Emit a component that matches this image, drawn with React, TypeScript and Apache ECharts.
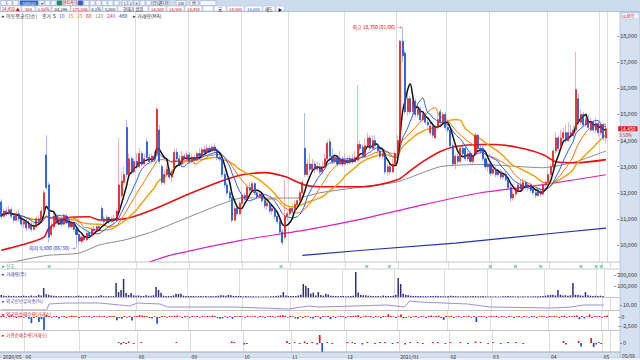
import React, { useEffect, useRef } from "react";
import * as echarts from "echarts";

// ---------------- DATA ----------------
const monthLabels = ["2020/05", "06", "07", "08", "09", "10", "11", "12", "2021/01", "02", "03", "04", "05"];
const monthTradingDays = [9, 22, 23, 21, 21, 19, 22, 21, 20, 17, 23, 21, 3];

// [open, close, low, high]
const candles: number[][] = [
  [11650,11100,11000,11750],[11100,11300,11050,11400],[11300,11200,11100,11450],[11200,11350,11150,11500],[11350,11100,11000,11450],
  [11100,10950,10850,11200],[10950,11200,10900,11300],[11200,11000,10900,11350],[11000,10800,10700,11100],[10800,10900,10650,11000],
  [10900,10650,10550,11000],[10650,10800,10600,10950],[10800,10600,10500,10900],[10600,10700,10550,10850],[10700,11000,10650,11100],
  [11000,10900,10800,11150],[10900,11300,10850,11450],[11300,12000,11200,12100],[13450,12200,12100,14200],[12300,10300,10100,12400],
  [10400,10700,10300,10900],[10700,11100,10600,11300],[11100,10900,10800,11200],[10900,11000,10750,11150],[11000,10800,10700,11100],
  [10800,11100,10750,11200],[11100,10850,10800,11200],[10850,10700,10600,10950],[10700,10850,10650,11000],[10850,10600,10500,10900],
  [10600,10400,9900,10700],[10400,10150,10050,10450],[10150,10300,10050,10400],[10300,10200,10100,10400],[10200,10450,10150,10550],
  [10450,10350,10250,10550],[10350,10600,10300,10700],[10600,10550,10450,10750],[10550,10700,10500,10800],[10700,10650,10550,10850],
  [11400,11000,10900,11500],[11000,10900,10800,11100],[10900,11050,10850,11150],[11050,10900,10800,11100],[10900,11000,10850,11100],
  [11000,10950,10850,11150],[10950,11300,10900,11400],[11300,12300,11200,14100],[11900,12450,11800,12800],[12400,12700,12300,13000],
  [14500,12700,12600,14800],[12700,13300,12600,13500],[13300,12800,12700,13400],[12800,13200,12750,13350],[13200,13000,12900,13500],
  [13000,13500,12950,13700],[13500,13100,13000,13600],[13100,13300,13050,13500],[13950,13350,13300,14100],[13350,13200,13100,13500],
  [13200,13400,13100,13500],[13400,13300,13200,13600],[13500,15200,13400,15300],[14400,13200,13100,14600],[13000,12400,12300,13100],
  [12400,12700,12300,12900],[12700,12900,12600,13100],[12900,12600,12500,13000],[12600,12800,12400,12900],[12950,13550,12900,13700],
  [13550,13300,13200,13700],[13300,13100,13000,13450],[13100,13400,13050,13600],[13400,13300,13200,13500],[13300,13450,13250,13600],
  [13450,13200,13100,13550],[13200,13350,13150,13500],[13350,13250,13100,13450],[13250,13500,13200,13600],[13500,13400,13300,13700],
  [13400,13650,13350,13750],[13650,13550,13450,13800],[13550,13700,13500,13850],[13700,13600,13500,13800],[13600,13750,13550,13850],
  [13750,13650,13500,13900],[13650,13350,13250,13700],[13350,13300,13200,13500],[13300,12700,12600,13350],[12700,12300,12200,12800],
  [12300,12000,11900,12400],[12000,11800,11700,12100],[11800,10950,10850,11850],[10950,11400,10900,11500],[11400,11200,11100,11500],
  [11200,11600,11150,11700],[11600,11900,11550,12000],[11900,11800,11700,12000],[11800,12200,11750,12300],[12200,12100,12000,12400],
  [12100,12350,12000,12450],[12350,12000,11900,12400],[12000,11850,11750,12050],[11850,11950,11800,12050],[11950,11700,11600,12000],
  [11700,11500,11400,11750],[11500,11600,11350,11700],[11600,11300,11200,11650],[11300,11400,11150,11500],[11400,11100,11000,11450],
  [11100,10900,10800,11200],[10900,10500,10400,11000],[10500,10100,10000,10600],[10300,11100,10200,12500],[11100,11200,10900,11300],
  [11200,11400,11100,11500],[11400,11300,11200,11600],[11300,11550,11250,11700],[11550,11700,11450,11800],[11700,12000,11600,12100],
  [12000,12400,11950,12500],[13700,12700,12600,15050],[12700,13100,12600,13300],[13100,12900,12800,13500],[12900,13100,12850,13300],
  [13100,12900,12750,13200],[12900,13000,12800,13200],[13000,12800,12700,13150],[12800,13000,12700,13200],[13000,13300,12950,13500],
  [13300,13900,13250,14000],[13950,13400,13300,14100],[13400,13200,13100,13700],[13200,13350,13100,13500],[13350,13100,13000,13450],
  [13100,13300,13050,13600],[13300,13100,13000,13400],[13100,13250,13050,13500],[13250,13150,13050,13400],[13150,13300,13100,13450],
  [13300,13200,13100,13500],[13200,13350,13150,13600],[13250,13850,13200,16100],[13850,13700,13600,14000],[13750,13400,13300,13850],
  [13400,13800,13350,14100],[13800,14100,13700,14300],[14100,13700,13600,14200],[13700,14000,13650,14200],[14000,13800,13700,14200],
  [13800,13600,13500,13900],[13600,13400,13300,13700],[13400,13500,13300,13650],[13500,12800,12700,13600],[12800,13000,12650,13100],
  [13000,12800,12700,13150],[12800,13100,12750,13300],[13100,13500,13000,13600],[13500,14000,13400,14200],[13900,17800,13800,17850],
  [17800,17250,17000,18350],[17350,15100,15000,17450],[15100,15600,14950,15800],[15600,15100,15000,15700],[15100,15500,14900,15650],
  [15500,15000,14900,15600],[15000,15200,14850,15350],[15200,14800,14700,15300],[14800,15000,14700,15100],[15000,14700,14600,15100],
  [14700,14600,14500,14850],[14300,14550,14200,14700],[14550,14200,14100,14650],[14100,14500,14050,14600],[14500,14800,14400,15000],
  [15100,14700,14600,15200],[14700,15000,14650,15100],[15000,14500,14400,15100],[14500,14400,14300,14700],[14400,13800,13700,14450],
  [13800,13100,13000,13900],[13100,13400,12900,13500],[13400,13200,13100,13500],[13200,13700,13150,13800],[13700,13500,13400,13900],
  [13700,13300,13200,13750],[13300,13500,13200,13600],[13500,13200,13100,13600],[13200,13400,13100,13500],[13500,14200,13450,14300],
  [14200,13700,13600,14250],[13700,13600,13500,13850],[13700,13300,13200,13800],[13300,13000,12900,13400],[13000,13100,12800,13200],
  [13100,12750,12650,13200],[12750,12900,12700,13000],[12900,12700,12600,13000],[12700,12800,12600,12900],[12800,12600,12500,12900],
  [12600,12700,12500,12800],[12700,12500,12400,12800],[12500,12200,12100,12600],[12200,11800,11650,12300],[11800,11950,11700,12100],
  [11950,12100,11850,12200],[12100,12300,12000,12400],[12300,12150,12050,12500],[12150,12400,12100,12550],[12400,12200,12100,12500],
  [12200,12300,12050,12400],[12300,12100,12000,12400],[12100,12000,11900,12200],[12000,11900,11800,12150],[11900,12050,11850,12200],
  [12050,11950,11850,12150],[11950,12300,11900,12400],[12300,12400,12200,12500],[12400,12700,12300,12800],[12700,13000,12600,13100],
  [13000,13600,12950,13700],[13600,14100,13500,14300],[14100,13700,13600,14200],[13700,14100,13650,14400],[14100,14300,14000,14500],
  [14300,14000,13900,14600],[14000,14300,13950,14700],[14300,14200,14100,14600],[14200,14400,14100,14600],[14400,15950,14300,17400],
  [15600,14700,14600,15800],[14700,15000,14600,15200],[15000,14600,14500,15100],[14600,14800,14500,15000],[14800,14500,14400,15000],
  [14400,14700,14350,14900],[14700,14400,14300,14800],[14400,14650,14300,14900],[14650,14300,14150,14750],[14300,14600,14200,14700],
  [14600,14100,14000,14650],[14100,14450,13900,14600],
];

// long moving averages: [dayIndex, value]
const ma60Points = [[0,9800],[8,10000],[17,10300],[19,10650],[26,11040],[35,11080],[39,10960],[49,11000],[60,11340],[74,11920],[87,12420],[96,12690],[105,12770],[113,12620],[121,12300],[127,12230],[144,12230],[158,12500],[162,12770],[168,13190],[175,13580],[181,13770],[191,13850],[197,13850],[206,13730],[216,13460],[221,13190],[229,13150],[241,13270]];
const ma120Points = [[0,9300],[4,9340],[18,9600],[31,9690],[39,10000],[49,10190],[60,10500],[74,11040],[87,11540],[96,11800],[107,11800],[118,11800],[127,12000],[144,12230],[158,12420],[175,13000],[191,13080],[216,12960],[229,13190],[241,13600]];
const ma240Points = [[59,9350],[68,9620],[96,10190],[121,10570],[144,11000],[168,11540],[191,12000],[216,12310],[241,12690]];
const ma480Points = [[120,9600],[144,9800],[181,10070],[221,10460],[241,10650]];

const volumes = [
  18000,12000,9000,11000,8000,10000,7000,9000,8000,12000,
  9000,8000,14000,7000,10000,20000,14000,82000,24000,20000,
  14000,11000,9000,8000,10000,7000,8000,9000,6000,7000,
  9000,12000,8000,6000,9000,7000,8000,6000,7000,9000,
  15000,8000,7000,9000,6000,8000,127000,45000,64000,164000,
  36000,18000,36000,15000,12000,14000,10000,9000,16000,11000,
  12000,15000,91000,64000,38000,12000,10000,9000,8000,14000,
  30000,28000,30000,12000,10000,9000,8000,10000,7000,8000,
  9000,7000,8000,6000,9000,7000,10000,12000,15000,14000,
  11000,18000,16000,10000,8000,9000,8000,6000,8000,7000,
  6000,7000,5000,6000,5000,6000,7000,5000,6000,8000,
  9000,12000,16000,45000,14000,10000,8000,9000,10000,14000,
  20000,118000,100000,82000,30000,40000,14000,45000,18000,12000,
  30000,22000,12000,10000,9000,8000,10000,9000,7000,8000,
  9000,12000,227000,40000,18000,15000,16000,12000,10000,9000,
  8000,9000,7000,14000,10000,8000,9000,12000,20000,173000,
  118000,30000,20000,15000,12000,10000,9000,8000,9000,7000,
  8000,7000,9000,8000,10000,9000,8000,7000,6000,9000,
  12000,9000,8000,7000,6000,7000,8000,6000,7000,10000,
  8000,6000,7000,8000,6000,5000,6000,5000,6000,5000,
  5000,6000,8000,10000,7000,6000,5000,6000,5000,6000,
  5000,6000,5000,6000,7000,6000,8000,9000,12000,15000,
  18000,20000,14000,64000,20000,14000,16000,12000,15000,127000,
  20000,18000,14000,12000,45000,16000,12000,10000,11000,9000,
  12000,8000,
];

const foreignHoldingPoints = [[0,9.0],[18,9.0],[19,10.2],[26,10.4],[39,10.4],[51,9.8],[54,10.4],[63,10.2],[66,9.6],[92,9.6],[114,9.2],[122,9.8],[126,9.6],[153,10.0],[160,9.6],[162,10.8],[166,10.6],[185,10.2],[194,9.6],[218,9.4],[226,9.6],[231,10.0],[239,10.0]];

const foreignNet = [
  300,400,-200,300,500,200,-300,200,300,-200,
  200,-500,-1700,-300,200,-1400,-600,-3900,550,300,
  -200,200,300,-400,200,300,-300,200,400,300,
  200,-300,200,300,200,300,-200,300,200,300,
  200,300,-200,300,200,300,-900,-300,-500,300,
  -200,300,-1000,200,300,500,400,300,200,-300,
  -400,200,-1900,-300,300,200,-200,300,200,300,
  400,200,-300,300,200,-200,300,200,300,-200,
  300,200,300,200,400,300,-300,-500,-400,200,
  -300,200,-500,300,200,300,200,-200,300,200,
  200,300,-200,300,200,-300,200,300,200,-200,
  300,400,500,300,-200,300,200,-400,-500,200,
  -300,300,200,-300,-400,300,200,-500,300,200,
  300,-600,200,-300,200,300,200,-300,200,300,
  300,400,500,-300,200,300,200,300,-200,300,
  200,-300,300,200,800,300,200,-300,200,700,
  -400,-300,200,-300,200,300,-200,300,200,-300,
  300,400,200,300,400,-300,-800,300,200,300,
  -300,200,300,-200,300,200,300,-200,300,-1400,
  200,300,200,-300,200,300,200,300,-200,300,
  200,-200,300,200,-300,200,300,-200,300,200,
  -200,300,200,-300,200,300,200,-200,300,200,
  300,200,-300,300,400,-200,300,200,300,400,
  -600,300,-400,200,700,-300,300,200,300,-200,
  300,400,
];

const institutionNetPoints = [[46,200],[47,-300],[48,200],[49,-200],[50,300],[52,-200],[55,200],[69,200],[91,300],[92,200],[96,-300],[97,-200],[113,400],[114,-200],[116,200],[118,-200],[120,300],[121,-200],[123,200],[125,-300],[126,1600],[127,-1800],[129,200],[131,-200],[137,200],[139,200],[140,-200],[143,-300],[145,200],[148,-200],[150,200],[152,200],[155,-200],[157,200],[160,-300],[162,200],[165,200],[167,-200],[171,200],[173,200],[176,-200],[178,200],[182,200],[185,-200],[188,300],[190,200],[193,-200],[195,200],[198,-200],[201,200],[204,200],[207,-200],[223,400],[224,-300],[229,400],[230,-700],[234,1000],[235,-800],[236,-300],[237,200],[238,-200]];

const signalDays = [19, 111, 145, 154, 194, 204, 214, 230, 236, 238];

const priceTicks = [10000, 11000, 12000, 13000, 14000, 15000, 16000, 17000, 18000];
const volumeTicks = [100000, 200000];
const holdingTicks = [10];
const foreignTicks = [0, -2500];
const instTicks = [0];
const changePct = "3.58%";
const maxDateLabel = "01/06";
const minDateLabel = "06/30";

// ---------------- derived ----------------
const categories: string[] = [];
const monthStartIndex: Record<number, string> = {};
monthLabels.forEach((m, k) => {
  monthStartIndex[categories.length] = m;
  for (let d = 0; d < monthTradingDays[k]; d++) categories.push(`${m}-${d + 1}`);
});
const closes = candles.map((c) => c[1]);
const bodies = candles.map(([o, c]) => [o, c, Math.min(o, c), Math.max(o, c)]);
function movingAverage(values: number[], n: number) {
  return values.map((_, i) => {
    const from = Math.max(0, i - n + 1);
    let s = 0;
    for (let k = from; k <= i; k++) s += values[k];
    return Math.round(s / (i - from + 1));
  });
}
const fmt = (v: number) => String(v).replace(/\B(?=(\d{3})+(?!\d))/g, ",");
const FONT = "Noto Sans CJK KR, Noto Sans, sans-serif";

export default function App() {
  const ref = useRef<HTMLDivElement>(null);
  useEffect(() => {
    if (!ref.current) return;
    const chart = echarts.init(ref.current, undefined, { renderer: "svg" });

    let maxIdx = 0, minIdx = 0;
    candles.forEach((c, i) => {
      if (c[3] > candles[maxIdx][3]) maxIdx = i;
      if (c[2] < candles[minIdx][2]) minIdx = i;
    });
    const lastClose = closes[closes.length - 1];

    const gridDefs = [
      { top: 12, height: 250 },
      { top: 262, height: 7 },
      { top: 270, height: 27 },
      { top: 298, height: 12 },
      { top: 311, height: 19 },
      { top: 331, height: 21 },
    ];
    const isMonthStart = (i: number) => monthStartIndex[i] !== undefined;

    const xAxes = gridDefs.map((_, k) => ({
      type: "category",
      gridIndex: k,
      data: categories,
      boundaryGap: true,
      axisLine: { show: false },
      axisTick: { show: false },
      axisLabel:
        k === 5
          ? {
              show: true,
              interval: (i: number) => isMonthStart(i),
              formatter: (_v: string, i: number) => monthStartIndex[i] ?? "",
              fontSize: 5,
              color: "#333",
              margin: 1.5,
              align: "left",
              fontFamily: FONT,
            }
          : { show: false },
      splitLine: {
        show: true,
        interval: (i: number) => isMonthStart(i) && i > 0,
        lineStyle: { color: "#dcdcdc", width: 1 },
      },
    }));

    const yAx = (k: number, min: number, max: number, ticks: number[], f: (v: number) => string) => ({
      type: "value",
      gridIndex: k,
      position: "right",
      offset: 10,
      min,
      max,
      axisLine: { show: false },
      splitLine: { show: false },
      axisTick: { show: ticks.length > 0, length: 2, customValues: ticks, lineStyle: { color: "#555", width: 0.6 } },
      axisLabel: { show: ticks.length > 0, customValues: ticks, formatter: f, fontSize: 5.5, color: "#333", margin: 3, fontFamily: FONT },
    });

    const yAxes = [
      yAx(0, 9350, 18920, priceTicks, (v) => fmt(v)),
      yAx(1, 0, 7, [], (v) => String(v)),
      yAx(2, 0, 245454, volumeTicks, (v) => fmt(v)),
      yAx(3, 9.0, 11.4, holdingTicks, (v) => v.toFixed(2)),
      yAx(4, -3614, 1668, foreignTicks, (v) => fmt(v)),
      yAx(5, -1800, 2400, instTicks, (v) => fmt(v)),
    ];

    const maLine = (name: string, data: any[], color: string, width: number, smooth: number | boolean = 0.3) => ({
      type: "line",
      name,
      data,
      xAxisIndex: 0,
      yAxisIndex: 0,
      symbol: "none",
      smooth,
      connectNulls: true,
      lineStyle: { color, width },
      z: 3,
    });

    const upDown = (p: any) => {
      const v = Array.isArray(p.value) ? p.value[1] : p.value;
      return v >= 0 ? "#f01515" : "#1d4fd8";
    };

    const headerA: [number, number, string, string, string][] = [
      [1, 5, "#f3f6fb", "", "#333"], [7, 5, "#f3f6fb", "", "#333"], [13, 5, "#f3f6fb", "", "#333"],
      [20, 18, "#2f5fc9", "048830", "#fff"], [39, 5, "#f3f6fb", "▾", "#333"], [45, 5, "#f3f6fb", "", "#333"],
      [51, 5, "#f3f6fb", "", "#333"], [57, 5, "#1c8a5c", "", "#fff"], [63, 14, "#ffffff", "엔피케이", "#d01010"],
      [78, 5, "#2f5fc9", "", "#fff"], [84, 5, "#f3f6fb", "", "#333"], [90, 5, "#f3f6fb", "", "#333"],
      [96, 5, "#f3f6fb", "", "#333"], [102, 5, "#f3f6fb", "", "#333"], [108, 5, "#f3f6fb", "", "#333"],
      [114, 5, "#f3f6fb", "", "#333"], [122, 5, "#f3f6fb", "1", "#333"], [128, 5, "#f3f6fb", "3", "#333"],
      [134, 5, "#f3f6fb", "6", "#333"], [140, 5, "#f3f6fb", "", "#333"], [146, 5, "#f3f6fb", "", "#333"],
      [152, 5, "#f3f6fb", "日", "#333"], [158, 5, "#f3f6fb", "週", "#333"], [164, 5, "#f3f6fb", "月", "#333"],
      [176, 10, "#f3f6fb", "100", "#333"], [190, 8, "#f3f6fb", "▤", "#333"], [200, 16, "#f3f6fb", "", "#333"],
    ];
    const headerB: [number, number, string, string][] = [
      [1, 20, "14,450 ▲", "#e00000"], [22, 13, "500", "#e00000"], [36, 15, "3.58%", "#e00000"],
      [52, 18, "84,196", "#222"], [71, 18, "175,506", "#e00000"], [90, 12, "4.1%", "#222"],
      [103, 14, "5,000", "#222"], [118, 30, "현재가 범위", "#222"], [149, 17, "14,500", "#e00000"],
      [167, 17, "14,500", "#e00000"], [185, 17, "14,450", "#e00000"], [203, 10, "", "#222"],
      [214, 12, "▣", "#222"], [227, 17, "14,500", "#e00000"], [245, 17, "10,000", "#1d4fd8"],
      [263, 12, "매도", "#222"], [276, 8, "▶", "#222"],
    ];
    const legendItems: [number, string, string][] = [
      [2, "▸ 이동평균(단순)", "#333"], [42, "종가", "#333"], [53, "5", "#000"], [59, "10", "#2a5bff"],
      [68, "15", "#ff6a00"], [77, "25", "#e8a000"], [86, "60", "#e81010"], [95, "120", "#888"],
      [107, "240", "#d820c0"], [119, "480", "#2233aa"], [133, "▸ 거래량(MA)", "#333"],
    ];
    const panelLabels: [number, string, string][] = [
      [263, "▸ 신호", "#3a9a7a"],
      [271, "▸ 거래량(주)", "#3a3a7a"],
      [298.5, "▸ 외국인보유비중(%)", "#5a50b0"],
      [311.5, "▸ 외국인순매수량(거래소)", "#cc2020"],
      [332, "▸ 기관순매수량(거래소)", "#cc2020"],
    ];

    const graphics: any[] = [
      { type: "rect", z: -10, silent: true, shape: { x: 0, y: 0, width: 640, height: 12 }, style: { fill: "#cddbee" } },
      { type: "line", z: -9, shape: { x1: 0, y1: 11.5, x2: 640, y2: 11.5 }, style: { stroke: "#9fb2cc", lineWidth: 0.6 } },
      { type: "rect", z: -10, shape: { x: 620, y: 12, width: 20, height: 346 }, style: { fill: "#d5e1f1", stroke: "#9fb2cc", lineWidth: 0.6 } },
      { type: "rect", z: -10, shape: { x: 0, y: 352, width: 620, height: 6 }, style: { fill: "#d5e1f1", stroke: "#9fb2cc", lineWidth: 0.6 } },
      { type: "rect", z: -10, shape: { x: 0, y: 358, width: 640, height: 2 }, style: { fill: "#f0f0f0" } },
      { type: "rect", z: -9, shape: { x: 0, y: 268, width: 620, height: 2 }, style: { fill: "#e6e6e6" } },
      { type: "text", z: 10, style: { x: 622, y: 355, text: "05/06", fontSize: 5, fill: "#333", fontFamily: FONT, verticalAlign: "middle" } },
      { type: "rect", z: 10, shape: { x: 621, y: 13, width: 18, height: 6 }, style: { fill: "#eef3fa", stroke: "#b8c6da", lineWidth: 0.5 } },
      { type: "text", z: 11, style: { x: 622, y: 16, text: "LG화학", fontSize: 4, fill: "#d01010", fontFamily: FONT, verticalAlign: "middle" } },
    ];
    [262, 297.5, 310.5, 330.5, 352].forEach((y) =>
      graphics.push({ type: "line", z: 5, shape: { x1: 0, y1: y, x2: 620, y2: y }, style: { stroke: "#b5b5b5", lineWidth: 0.8 } })
    );
    headerA.forEach(([x, w, fill, t, c]) => {
      graphics.push({ type: "rect", z: 10, shape: { x, y: 0.5, width: w, height: 5 }, style: { fill, stroke: "#8ea2c2", lineWidth: 0.5 } });
      if (t) graphics.push({ type: "text", z: 11, style: { x: x + w / 2, y: 3, text: t, fontSize: 4, fill: c, align: "center", verticalAlign: "middle", fontFamily: FONT } });
    });
    headerB.forEach(([x, w, t, c]) => {
      graphics.push({ type: "rect", z: 10, shape: { x, y: 6, width: w, height: 5 }, style: { fill: "#ffffff", stroke: "#a9b9d2", lineWidth: 0.5 } });
      if (t) graphics.push({ type: "text", z: 11, style: { x: x + w / 2, y: 8.6, text: t, fontSize: 4.2, fill: c, align: "center", verticalAlign: "middle", fontFamily: FONT } });
    });
    legendItems.forEach(([x, t, c]) =>
      graphics.push({ type: "text", z: 11, style: { x, y: 15.5, text: t, fontSize: 5, fill: c, verticalAlign: "middle", fontFamily: FONT } })
    );
    panelLabels.forEach(([y, t, c]) =>
      graphics.push({ type: "text", z: 11, style: { x: 2, y: y + 2.5, text: t, fontSize: 4.6, fill: c, verticalAlign: "middle", fontFamily: FONT } })
    );

    const option: any = {
      animation: false,
      backgroundColor: "#ffffff",
      textStyle: { fontFamily: FONT },
      grid: gridDefs.map((g) => ({ left: 0, right: 30, top: g.top, height: g.height })),
      xAxis: xAxes,
      yAxis: yAxes,
      graphic: graphics,
      series: [
        {
          type: "candlestick",
          name: "wick",
          data: candles,
          xAxisIndex: 0,
          yAxisIndex: 0,
          barWidth: 1.6,
          itemStyle: { color: "rgba(0,0,0,0)", color0: "rgba(0,0,0,0)", borderColor: "#f4a0a0", borderColor0: "#8fb0ee", borderWidth: 0.8 },
          z: 2,
        },
        {
          type: "candlestick",
          name: "body",
          data: bodies,
          xAxisIndex: 0,
          yAxisIndex: 0,
          barWidth: 1.6,
          itemStyle: { color: "#f01515", color0: "#1d4fd8", borderColor: "#f01515", borderColor0: "#1d4fd8", borderWidth: 0.6 },
          z: 4,
          markPoint: {
            symbol: "circle",
            symbolSize: 0.1,
            silent: true,
            data: [
              {
                coord: [maxIdx, candles[maxIdx][3]],
                value: candles[maxIdx][3],
                label: { show: true, position: "left", distance: 1, formatter: `최고 ${fmt(candles[maxIdx][3])} (${maxDateLabel}) →`, color: "#e00000", fontSize: 5, fontFamily: FONT },
              },
              {
                coord: [minIdx, candles[minIdx][2]],
                value: candles[minIdx][2],
                label: { show: true, position: "left", distance: 1, formatter: `최저 ${fmt(candles[minIdx][2])} (${minDateLabel}) →`, color: "#1030d0", fontSize: 5, fontFamily: FONT },
              },
            ],
          },
          markLine: {
            symbol: "none",
            silent: true,
            lineStyle: { color: "rgba(0,0,0,0)" },
            data: [
              {
                yAxis: lastClose,
                label: { show: true, position: "end", distance: 11, formatter: fmt(lastClose), color: "#fff", backgroundColor: "#e41414", fontSize: 5, lineHeight: 5, padding: [0, 2, 0, 2], fontFamily: FONT },
              },
              {
                yAxis: lastClose - 240,
                label: { show: true, position: "end", distance: 12, formatter: changePct, color: "#e41414", fontSize: 4.5, lineHeight: 4.5, fontFamily: FONT },
              },
            ],
          },
        },
        maLine("MA480", ma480Points, "#2233aa", 1.2, false),
        maLine("MA240", ma240Points, "#d820c0", 1.2, 0.2),
        maLine("MA120", ma120Points, "#8a8a8a", 1, 0.2),
        maLine("MA60", ma60Points, "#e81010", 1.6, 0.3),
        maLine("MA25", movingAverage(closes, 25), "#f0a000", 1.4),
        maLine("MA15", movingAverage(closes, 15), "#ff6a00", 1),
        maLine("MA10", movingAverage(closes, 10), "#2a5bff", 1),
        maLine("MA5", movingAverage(closes, 5), "#111111", 1.5),
        {
          type: "scatter",
          name: "signal",
          xAxisIndex: 1,
          yAxisIndex: 1,
          data: signalDays.map((i) => [i, 2.5]),
          symbol: "rect",
          symbolSize: [3, 3],
          itemStyle: { color: "#6fcfa6" },
        },
        {
          type: "bar",
          name: "volume",
          xAxisIndex: 2,
          yAxisIndex: 2,
          data: volumes,
          barWidth: 1.5,
          itemStyle: { color: "#2e2e7e" },
        },
        {
          type: "line",
          name: "holding",
          xAxisIndex: 3,
          yAxisIndex: 3,
          data: foreignHoldingPoints,
          symbol: "none",
          lineStyle: { color: "#9a8fe0", width: 1 },
        },
        {
          type: "bar",
          name: "foreign",
          xAxisIndex: 4,
          yAxisIndex: 4,
          data: foreignNet,
          barWidth: 1.7,
          itemStyle: { color: upDown },
        },
        {
          type: "bar",
          name: "institution",
          xAxisIndex: 5,
          yAxisIndex: 5,
          data: institutionNetPoints,
          barWidth: 1.7,
          itemStyle: { color: upDown },
        },
      ],
    };

    chart.setOption(option);
    return () => chart.dispose();
  }, []);

  return <div ref={ref} style={{ position: "fixed", left: 0, top: 0, width: 640, height: 360 }} />;
}
